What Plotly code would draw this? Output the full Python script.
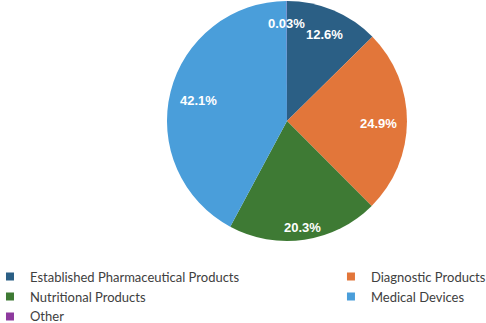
import math
import plotly.graph_objects as go

categories = ["Established Pharmaceutical Products", "Diagnostic Products",
              "Nutritional Products", "Medical Devices", "Other"]
values = [12.6, 24.9, 20.3, 42.1, 0.03]
colors = ["#2B5F85", "#E2763A", "#3E7A34", "#4A9EDA", "#8E3A9E"]
legend_column = ["legend", "legend2", "legend", "legend2", "legend"]
label_radius = [0.80, 0.76, 0.88, 0.76, 0.83]   # label distance (fraction of pie radius)

W, H = 486, 323
dom_x = [0.3436, 0.8374]
dom_y = [0.254, 0.997]

fig = go.Figure()
fig.add_trace(go.Pie(
    labels=categories,
    values=values,
    sort=False,
    direction="clockwise",
    rotation=0,
    marker=dict(colors=colors, line=dict(width=0)),
    textinfo="none",
    domain=dict(x=dom_x, y=dom_y),
    hoverinfo="label+value",
    showlegend=False,
))

# legend entries (two columns)
for cat, col, lg in zip(categories, colors, legend_column):
    fig.add_trace(go.Scatter(
        x=[None], y=[None], mode="markers", name=cat, legend=lg, legendgroup=cat,
        marker=dict(symbol="square", size=8, color=col),
    ))

# slice labels, placed from the data (mid-angle of each slice)
total = sum(values)
R_px = min((dom_x[1] - dom_x[0]) * W, (dom_y[1] - dom_y[0]) * H) / 2
cx = (dom_x[0] + dom_x[1]) / 2
cy = (dom_y[0] + dom_y[1]) / 2
cum = 0.0
for v, lf in zip(values, label_radius):
    mid = (cum + v / 2) / total * 2 * math.pi
    cum += v
    r = R_px * lf
    fig.add_annotation(
        x=cx + r * math.sin(mid) / W, y=cy + r * math.cos(mid) / H - 2 / H,
        xref="paper", yref="paper", showarrow=False,
        xanchor="center", yanchor="middle",
        text=f"{v}%",
        font=dict(family="Liberation Sans", size=13, color="white", weight="bold"),
    )

leg_font = dict(family="Lato", size=13, color="#404040")
fig.update_layout(
    width=W, height=H,
    margin=dict(l=0, r=0, t=0, b=0, autoexpand=False),
    paper_bgcolor="white", plot_bgcolor="white",
    xaxis=dict(visible=False), yaxis=dict(visible=False),
    legend=dict(x=-0.0206, y=0.19, xanchor="left", yanchor="top", tracegroupgap=0,
                itemwidth=30, font=leg_font, bgcolor="rgba(0,0,0,0)"),
    legend2=dict(x=0.681, y=0.19, xanchor="left", yanchor="top", tracegroupgap=0,
                 itemwidth=30, font=leg_font, bgcolor="rgba(0,0,0,0)"),
)

fig.write_html("out.html", config={"displayModeBar": False},
               post_script="document.body.style.margin='0';")
